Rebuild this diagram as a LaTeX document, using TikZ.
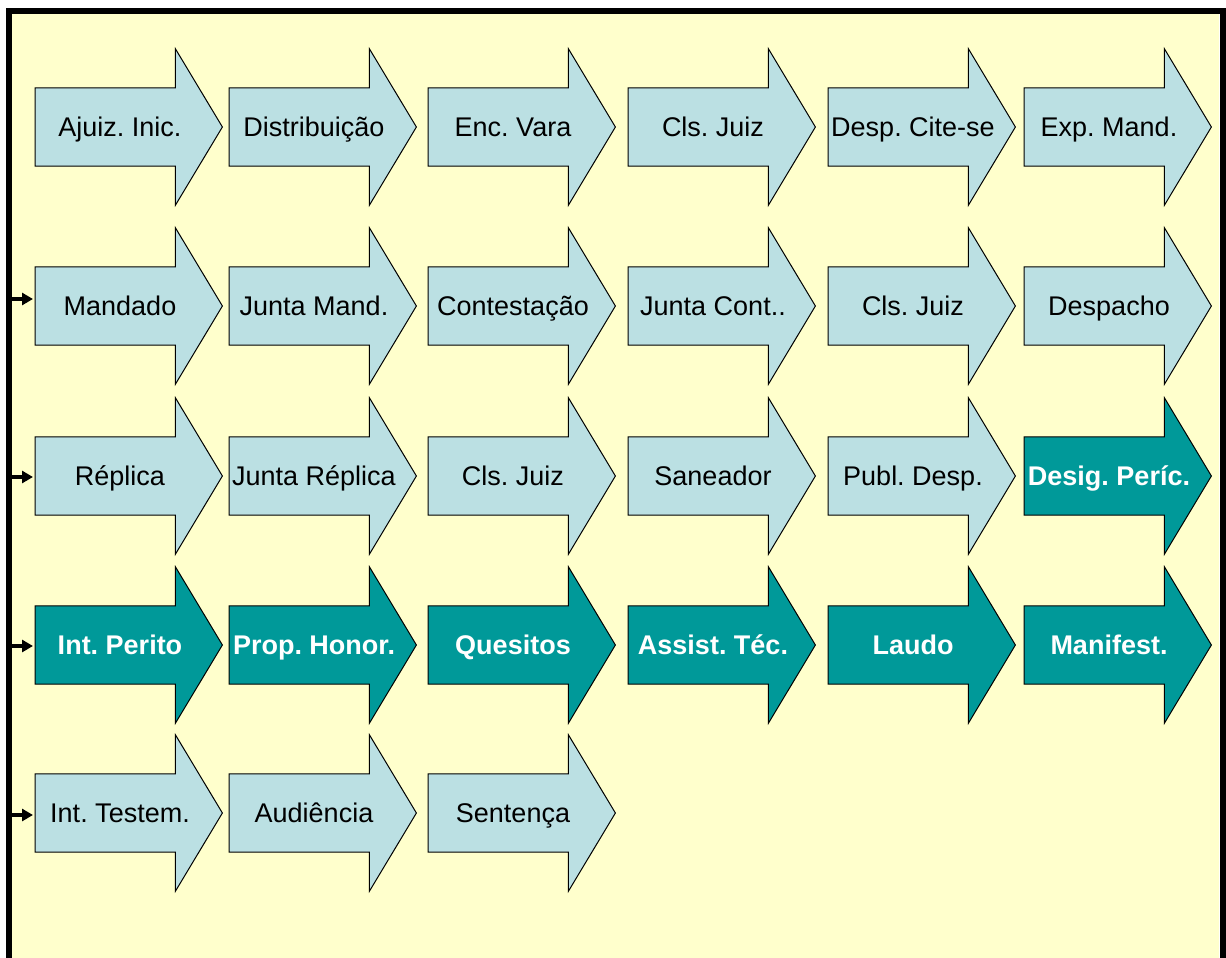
\documentclass[tikz,border=0pt]{standalone}
\usepackage{fontspec}
\setmainfont{Liberation Sans}
\usetikzlibrary{arrows.meta}
\frenchspacing

\definecolor{paper}{HTML}{FFFFCC}
\definecolor{stepfill}{HTML}{BBE0E3}
\definecolor{stepdark}{HTML}{009999}

\tikzset{
  shaftbox/.style={rectangle, minimum width=140pt, minimum height=78pt, inner sep=0pt, anchor=west},
  arrowbody/.style={draw=black, line width=1pt, line join=miter},
  lightstep/.style={arrowbody, fill=stepfill},
  darkstep/.style={arrowbody, fill=stepdark},
  steptext/.style={anchor=base, inner sep=0pt},
  lighttext/.style={steptext, font=\fontsize{27}{31}\selectfont, text=black},
  darktext/.style={steptext, font=\bfseries\fontsize{27}{31}\selectfont, text=white},
  feed/.style={line width=3.5pt, -{Triangle[length=11pt,width=12pt]}, shorten >=2pt},
}

% #1 name, #2 x, #3 y, #4 body style, #5 text style, #6 label
\newcommand\flowstep[6]{%
  \node[shaftbox] (#1) at (#2,#3) {};
  \draw[#4] (#1.north west) -- (#1.north east) -- ([yshift=39pt]#1.north east)
    -- ([xshift=47pt]#1.east) -- ([yshift=-39pt]#1.south east) -- (#1.south east)
    -- (#1.south west) -- cycle;
  \node[#5] (#1-label) at ([xshift=85pt, yshift=-9.5pt]#1.west) {#6};
}

\begin{document}
\begin{tikzpicture}[x=1pt, y=-1pt]
  \useasboundingbox (0,0) rectangle (1226,958);
  \clip (0,0) rectangle (1226,958);
  \fill[white] (0,0) rectangle (1226,958);
  \fill[paper] (12,14) rectangle (1219,970);
  \draw[line width=6pt] (9,975) -- (9,11) -- (1222.5,11) -- (1222.5,975);

  % row 1
  \flowstep{a1}{35}{127}{lightstep}{lighttext}{Ajuiz. Inic.}
  \flowstep{a2}{229}{127}{lightstep}{lighttext}{Distribuição}
  \flowstep{a3}{428}{127}{lightstep}{lighttext}{Enc. Vara}
  \flowstep{a4}{628}{127}{lightstep}{lighttext}{Cls. Juiz}
  \flowstep{a5}{828}{127}{lightstep}{lighttext}{Desp. Cite-se}
  \flowstep{a6}{1024}{127}{lightstep}{lighttext}{Exp. Mand.}

  % row 2
  \flowstep{b1}{35}{306}{lightstep}{lighttext}{Mandado}
  \flowstep{b2}{229}{306}{lightstep}{lighttext}{Junta Mand.}
  \flowstep{b3}{428}{306}{lightstep}{lighttext}{Contestação}
  \flowstep{b4}{628}{306}{lightstep}{lighttext}{Junta Cont..}
  \flowstep{b5}{828}{306}{lightstep}{lighttext}{Cls. Juiz}
  \flowstep{b6}{1024}{306}{lightstep}{lighttext}{Despacho}

  % row 3
  \flowstep{c1}{35}{476}{lightstep}{lighttext}{Réplica}
  \flowstep{c2}{229}{476}{lightstep}{lighttext}{Junta Réplica}
  \flowstep{c3}{428}{476}{lightstep}{lighttext}{Cls. Juiz}
  \flowstep{c4}{628}{476}{lightstep}{lighttext}{Saneador}
  \flowstep{c5}{828}{476}{lightstep}{lighttext}{Publ. Desp.}
  \flowstep{c6}{1024}{476}{darkstep}{darktext}{Desig. Períc.}

  % row 4
  \flowstep{d1}{35}{645}{darkstep}{darktext}{Int. Perito}
  \flowstep{d2}{229}{645}{darkstep}{darktext}{Prop. Honor.}
  \flowstep{d3}{428}{645}{darkstep}{darktext}{Quesitos}
  \flowstep{d4}{628}{645}{darkstep}{darktext}{Assist. Téc.}
  \flowstep{d5}{828}{645}{darkstep}{darktext}{Laudo}
  \flowstep{d6}{1024}{645}{darkstep}{darktext}{Manifest.}

  % row 5
  \flowstep{e1}{35}{813}{lightstep}{lighttext}{Int. Testem.}
  \flowstep{e2}{229}{813}{lightstep}{lighttext}{Audiência}
  \flowstep{e3}{428}{813}{lightstep}{lighttext}{Sentença}

  % row entries from the left margin
  \coordinate (in2) at (12,299);
  \coordinate (in3) at (12,477);
  \coordinate (in4) at (12,646);
  \coordinate (in5) at (12,815);
  \draw[feed] (in2) -- (in2 -| b1.west);
  \draw[feed] (in3) -- (in3 -| c1.west);
  \draw[feed] (in4) -- (in4 -| d1.west);
  \draw[feed] (in5) -- (in5 -| e1.west);
\end{tikzpicture}
\end{document}
